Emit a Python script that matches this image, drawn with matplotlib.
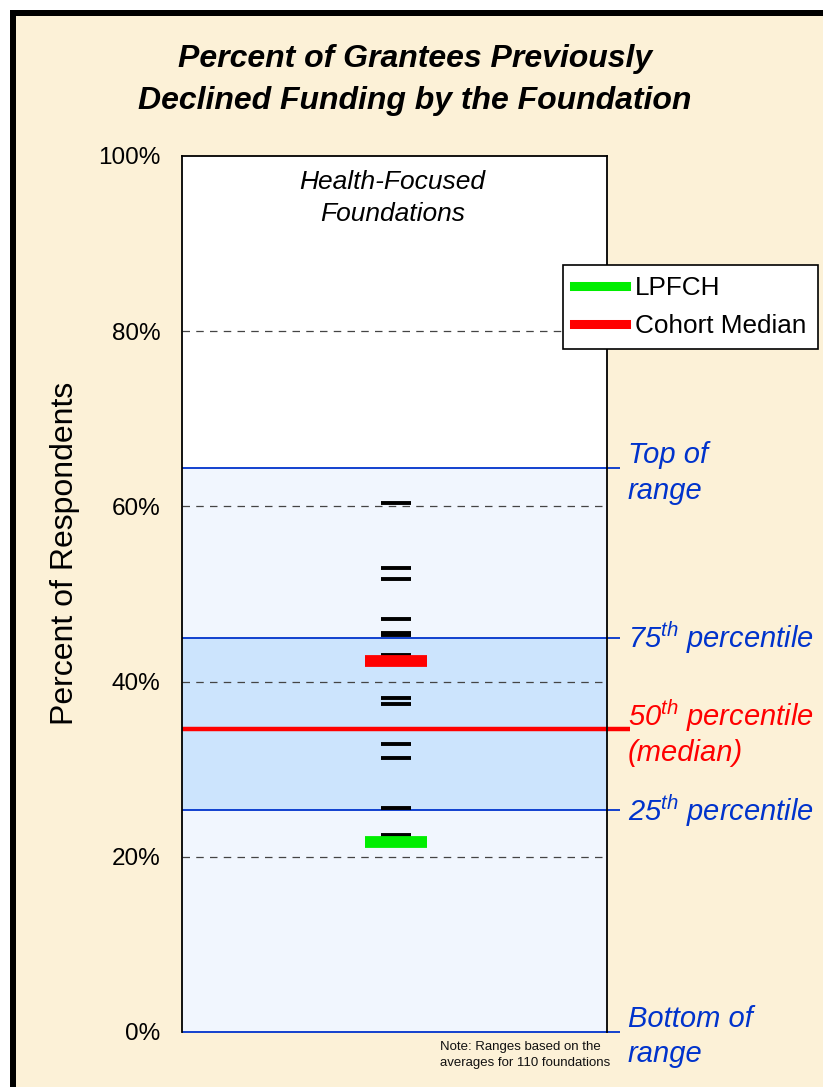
import matplotlib
matplotlib.use("Agg")
import matplotlib.pyplot as plt
from matplotlib.lines import Line2D
from matplotlib.patches import Rectangle

# ---------------- data ----------------
title = "Percent of Grantees Previously\nDeclined Funding by the Foundation"
ylabel = "Percent of Respondents"
panel_label = "Health-Focused\nFoundations"
yticks = [0, 20, 40, 60, 80, 100]
ytick_labels = ["0%", "20%", "40%", "60%", "80%", "100%"]
cohort_values = [60.35, 53.0, 51.7, 47.1, 45.6, 45.3, 43.0, 38.1, 37.5, 32.9, 31.3, 25.6, 22.5]
range_bottom = 0.0
p25 = 25.3
p50 = 34.6
p75 = 45.0
range_top = 64.4
lpfch_value = 21.7
cohort_median_value = 42.3
legend_labels = ["LPFCH", "Cohort Median"]
note_text = "Note: Ranges based on the\naverages for 110 foundations"

# ---------------- style ----------------
plt.rcParams['font.family'] = ['Liberation Sans', 'DejaVu Sans']
plt.rcParams['mathtext.fontset'] = 'custom'
plt.rcParams['mathtext.rm'] = 'Liberation Sans:italic'
plt.rcParams['mathtext.it'] = 'Liberation Sans:italic'

W, H = 823, 1087
fig = plt.figure(figsize=(W / 100, H / 100), dpi=100)
fig.patch.set_facecolor('white')

cream = '#FCF1D7'
blue = '#0033CC'
red = '#FF0000'
green = '#00EE00'

def fx(px):
    return px / W

def fy(py):
    return 1 - py / H

# background slide panel with black border (top & left)
fig.patches.append(Rectangle((fx(10), 0), 1 - fx(10), fy(10), transform=fig.transFigure,
                             facecolor=cream, edgecolor='none', zorder=-2))
fig.lines.append(Line2D([fx(10), 1], [fy(13), fy(13)], transform=fig.transFigure,
                        color='black', lw=6 * 0.72, solid_capstyle='butt', zorder=-1))
fig.lines.append(Line2D([fx(13), fx(13)], [fy(10), 0], transform=fig.transFigure,
                        color='black', lw=6 * 0.72, solid_capstyle='butt', zorder=-1))

ax_l, ax_r, ax_t, ax_b = 182, 607, 156, 1032
ax = fig.add_axes([fx(ax_l), fy(ax_b), fx(ax_r - ax_l), (ax_b - ax_t) / H])
ax.set_xlim(0, 1)
ax.set_ylim(0, 100)
ax.set_facecolor('white')

# range bands
ax.axhspan(range_bottom, range_top, color='#F1F6FE', zorder=0.5, lw=0)
ax.axhspan(p25, p75, color='#CCE4FD', zorder=0.6, lw=0)

# dashed gridlines
for v in [20, 40, 60, 80]:
    ax.axhline(v, color='#444444', lw=0.9, ls=(0, (6, 5)), zorder=1)

# range lines (extend past the right edge)
xr = (620 - ax_l) / (ax_r - ax_l)
for v in [range_bottom, p25, p75, range_top]:
    ax.plot([0, xr], [v, v], color=blue, lw=1.3, clip_on=False, zorder=2,
            solid_capstyle='butt')
xm = (630 - ax_l) / (ax_r - ax_l)
ax.plot([0, xm], [p50, p50], color=red, lw=3.2, clip_on=False, zorder=2,
        solid_capstyle='butt')

# cohort dashes
dx0 = (381 - ax_l) / (ax_r - ax_l)
dx1 = (411 - ax_l) / (ax_r - ax_l)
ax.hlines(cohort_values, dx0, dx1, color='black', lw=2.8, zorder=3)

# LPFCH & cohort median markers
bx0 = (365 - ax_l) / (ax_r - ax_l)
bx1 = (427 - ax_l) / (ax_r - ax_l)
ax.hlines([lpfch_value], bx0, bx1, color=green, lw=8.5, zorder=4)
ax.hlines([cohort_median_value], bx0, bx1, color=red, lw=8.5, zorder=4)

# spines / ticks
for s in ['left', 'top', 'right']:
    ax.spines[s].set_color('black')
    ax.spines[s].set_linewidth(1.3)
ax.spines['bottom'].set_visible(False)
ax.set_xticks([])
ax.set_yticks(yticks)
ax.set_yticklabels(ytick_labels, fontsize=17.5)
ax.tick_params(axis='y', length=0, pad=15.5)

# panel label
ax.text(0.495, 0.952, panel_label, transform=ax.transAxes, ha='center', va='center',
        fontsize=19, style='italic', linespacing=1.38, zorder=5)

# title and y label
fig.text(fx(415), fy(80), title, ha='center', va='center', fontsize=23,
         fontweight='bold', style='italic', linespacing=1.48)
fig.text(fx(65), fy(553), ylabel, ha='center', va='center', rotation=90, fontsize=23)

# right-side labels
lx = fx(628)
def ypos(v):
    return fy(ax_b - v / 100 * (ax_b - ax_t))

fig.text(lx, ypos(range_top) - 0.0045, "Top of\nrange", color=blue, fontsize=21,
         style='italic', ha='left', va='center', linespacing=1.38)
fig.text(lx, ypos(p75), r"$\mathrm{75}^{\mathrm{th}}$ percentile", color=blue, fontsize=21,
         style='italic', ha='left', va='center')
fig.text(lx, ypos(p50) - 0.003, "$\\mathrm{50}^{\\mathrm{th}}$ percentile\n(median)", color=red,
         fontsize=21, style='italic', ha='left', va='center', linespacing=1.2)
fig.text(lx, ypos(p25), r"$\mathrm{25}^{\mathrm{th}}$ percentile", color=blue, fontsize=21,
         style='italic', ha='left', va='center')
fig.text(lx, ypos(range_bottom) - 0.004, "Bottom of\nrange", color=blue, fontsize=21,
         style='italic', ha='left', va='center', linespacing=1.3)

# note
fig.text(fx(440), fy(1055), note_text, fontsize=9.5, ha='left', va='center',
         color='#111111', linespacing=1.35)

# legend
handles = [Line2D([], [], color=green, lw=6.5), Line2D([], [], color=red, lw=6.5)]
leg = fig.legend(handles, legend_labels, loc='upper left',
                 bbox_to_anchor=(fx(563), fy(265)), fontsize=18.8, frameon=True,
                 fancybox=False, edgecolor='black', facecolor='white', framealpha=1,
                 handlelength=2.0, handletextpad=0.35, borderpad=0.42,
                 labelspacing=0.55, borderaxespad=0)
leg.get_frame().set_linewidth(1.2)
leg.set_zorder(10)

fig.savefig("out.png", dpi=100)
